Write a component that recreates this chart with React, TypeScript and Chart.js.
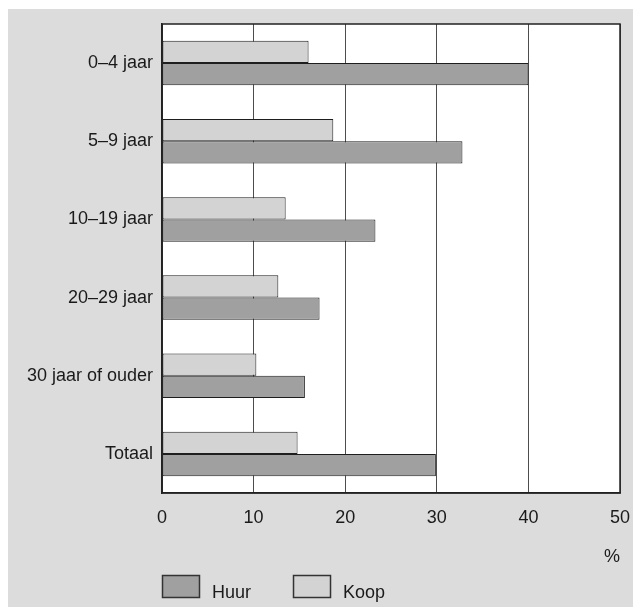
import React, { useEffect, useRef } from "react";
import { Chart, registerables } from "chart.js";

Chart.register(...registerables);

const categories = ["0–4 jaar", "5–9 jaar", "10–19 jaar", "20–29 jaar", "30 jaar of ouder", "Totaal"];
const koopValues = [16.0, 18.7, 13.5, 12.7, 10.3, 14.8];
const huurValues = [40.0, 32.8, 23.3, 17.2, 15.6, 29.9];
const xTicks = [0, 10, 20, 30, 40, 50];
const unitLabel = "%";

const FONT = "'Liberation Sans', Arial, Helvetica, sans-serif";
const TEXT = "#1a1a1a";
const KOOP_FILL = "#d3d3d3";
const HUUR_FILL = "#a0a0a0";
const EDGE = "#1e1e1e";

const plotFramePlugin = {
  id: "plotFrame",
  beforeDraw(chart: any) {
    const { ctx, chartArea: a } = chart;
    ctx.save();
    ctx.fillStyle = "#ffffff";
    ctx.fillRect(a.left, a.top, a.right - a.left, a.bottom - a.top);
    ctx.restore();
  },
  afterDatasetsDraw(chart: any) {
    const { ctx, chartArea: a } = chart;
    ctx.save();
    ctx.strokeStyle = "#222222";
    ctx.lineWidth = 1.5;
    ctx.strokeRect(a.left, a.top, a.right - a.left, a.bottom - a.top);
    ctx.restore();
  },
};

const customLegendPlugin = {
  id: "customLegend",
  afterDraw(chart: any) {
    const { ctx, chartArea: a } = chart;
    const items = [...chart.data.datasets].reverse();
    const boxW = 38;
    const boxH = 23;
    const boxTop = chart.height - 32;
    let x = a.left;
    ctx.save();
    ctx.font = `18px ${FONT}`;
    ctx.textBaseline = "alphabetic";
    ctx.textAlign = "left";
    items.forEach((ds: any) => {
      ctx.fillStyle = ds.backgroundColor;
      ctx.fillRect(x, boxTop, boxW, boxH);
      ctx.strokeStyle = "#333333";
      ctx.lineWidth = 1.5;
      ctx.strokeRect(x + 0.5, boxTop + 0.5, boxW - 1, boxH - 1);
      ctx.fillStyle = TEXT;
      const tx = x + boxW + 12;
      ctx.fillText(ds.label, tx, boxTop + boxH);
      const w = ctx.measureText(ds.label).width;
      x = tx + w + 42;
    });
    ctx.restore();
  },
};

const clearPadding = (scale: any) => {
  scale.paddingTop = 0;
  scale.paddingBottom = 0;
  scale.paddingLeft = 0;
  scale.paddingRight = 0;
};

export default function App() {
  const canvasRef = useRef<HTMLCanvasElement | null>(null);

  useEffect(() => {
    if (!canvasRef.current) return;
    const chart = new Chart(canvasRef.current, {
      type: "bar",
      data: {
        labels: categories,
        datasets: [
          {
            label: "Koop",
            data: koopValues,
            backgroundColor: KOOP_FILL,
            borderColor: EDGE,
            borderWidth: 1,
            borderSkipped: false,
          },
          {
            label: "Huur",
            data: huurValues,
            backgroundColor: HUUR_FILL,
            borderColor: EDGE,
            borderWidth: 1,
            borderSkipped: false,
          },
        ],
      },
      options: {
        indexAxis: "y",
        animation: false,
        responsive: true,
        maintainAspectRatio: false,
        layout: { padding: { left: 0, right: 13, top: 15, bottom: 39 } },
        datasets: {
          bar: { barPercentage: 1, categoryPercentage: 0.57 },
        },
        font: { family: FONT, size: 18 },
        scales: {
          x: {
            type: "linear",
            min: xTicks[0],
            max: xTicks[xTicks.length - 1],
            afterBuildTicks: (scale: any) => {
              scale.ticks = xTicks.map((v) => ({ value: v }));
            },
            afterFit: (scale: any) => {
              scale.height = 75;
              clearPadding(scale);
            },
            grid: { display: true, color: "#4d4d4d", lineWidth: 1, drawTicks: false },
            border: { display: true, color: "#222222", width: 1.5 },
            ticks: { padding: 14, color: TEXT, font: { family: FONT, size: 18 } },
            title: {
              display: true,
              text: unitLabel,
              align: "end",
              color: TEXT,
              font: { family: FONT, size: 18 },
              padding: { top: 0, bottom: 0 },
            },
          },
          y: {
            type: "category",
            afterFit: (scale: any) => {
              scale.width = 154;
              clearPadding(scale);
            },
            grid: { display: false, drawTicks: false },
            border: { display: true, color: "#222222", width: 1.5 },
            ticks: { padding: 9, color: TEXT, font: { family: FONT, size: 18 } },
          },
        },
        plugins: {
          legend: { display: false },
          tooltip: { enabled: false },
          title: { display: false },
        },
      },
      plugins: [plotFramePlugin, customLegendPlugin],
    } as any);
    return () => chart.destroy();
  }, []);

  return (
    <div
      style={{
        position: "fixed",
        left: 8,
        top: 9,
        width: 625,
        height: 598,
        background: "#dcdcdc",
      }}
    >
      <canvas ref={canvasRef} />
    </div>
  );
}
